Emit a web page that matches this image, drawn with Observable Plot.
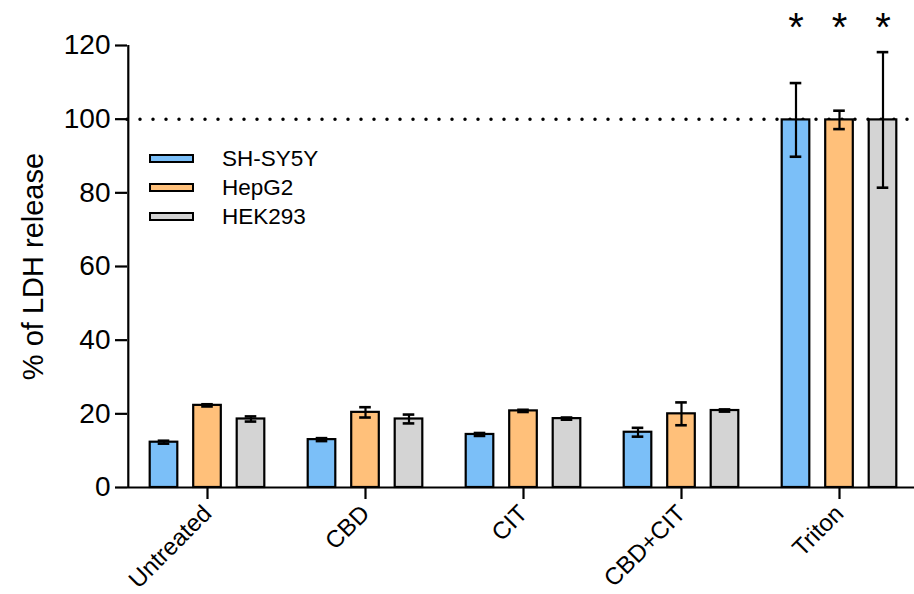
<!DOCTYPE html>
<html>
<head>
<meta charset="utf-8">
<script src="https://cdn.jsdelivr.net/npm/d3@7"></script>
<script src="https://cdn.jsdelivr.net/npm/@observablehq/plot@0.6"></script>
<style>
  body { margin: 0; background: #fff; font-family: "Liberation Sans", Arial, sans-serif; }
  #wrap { position: relative; width: 914px; height: 594px; }
  #legend { position: absolute; left: 149px; top: 144px; font-size: 22.5px; color: #000; }
  .row { display: flex; align-items: center; height: 29px; }
  .sw { width: 41px; height: 5px; border: 2px solid #000; margin-right: 28px; }
</style>
</head>
<body>
<div id="wrap"></div>
<script>
const treatments = ["Untreated", "CBD", "CIT", "CBD+CIT", "Triton"];
const series = ["SH-SY5Y", "HepG2", "HEK293"];
const colors = ["#7bbff8", "#ffc07a", "#d4d4d4"];
const shMean = [12.3, 13.0, 14.4, 15.0, 99.8];
const shErr = [0.4, 0.4, 0.4, 1.2, 10.0];
const hepMean = [22.3, 20.4, 20.8, 20.0, 99.8];
const hepErr = [0.3, 1.4, 0.3, 3.1, 2.5];
const hekMean = [18.6, 18.6, 18.7, 20.9, 99.8];
const hekErr = [0.7, 1.2, 0.3, 0.3, 18.4];
const starTreatment = "Triton";
const yTicks = [0, 20, 40, 60, 80, 100, 120];
const refLine = [100];
const yLabel = "% of LDH release";

const means = [shMean, hepMean, hekMean];
const errs = [shErr, hepErr, hekErr];
const data = series.map((s, i) => treatments.map((t, j) => ({
  treatment: t, series: s, mean: means[i][j], lo: means[i][j] - errs[i][j], hi: means[i][j] + errs[i][j]
})));

const step = (914 + 5 - 127) / treatments.length;
const barW = 28, capW = 12, offset = 43.5;
const marks = [];
marks.push(Plot.ruleY(refLine, {strokeDasharray: "0 13", strokeLinecap: "round", strokeWidth: 3.5}));
series.forEach((s, i) => {
  const dx = (i - 1) * offset;
  const inset = (step - barW) / 2;
  const capInset = (step - capW) / 2;
  marks.push(Plot.barY(data[i], {x: "treatment", y: "mean", fill: colors[i], stroke: "black", strokeWidth: 2.2, dx, insetLeft: inset, insetRight: inset}));
  marks.push(Plot.ruleX(data[i], {x: "treatment", y1: "lo", y2: "hi", strokeWidth: 2.2, dx}));
  marks.push(Plot.tickY(data[i], {x: "treatment", y: "hi", strokeWidth: 2.6, dx, insetLeft: capInset, insetRight: capInset}));
  marks.push(Plot.tickY(data[i], {x: "treatment", y: "lo", strokeWidth: 2.6, dx, insetLeft: capInset, insetRight: capInset}));
  marks.push(Plot.text(data[i].filter(d => d.treatment === starTreatment), {x: "treatment", y: 120, text: () => "*", dx, dy: -17, fontSize: 40}));
});
marks.push(Plot.ruleY([0], {strokeWidth: 2.2}));
// y axis line at the left edge of the first band
marks.push(Plot.ruleX([treatments[0]], {x: d => d, y1: 0, y2: 120, dx: -step / 2, strokeWidth: 2.2}));
marks.push(Plot.axisY({ticks: yTicks, tickSize: 12, tickPadding: 5, fontSize: 28, strokeWidth: 2.2, label: null}));
marks.push(Plot.text([yLabel], {text: d => d, frameAnchor: "left", textAnchor: "middle", rotate: -90, dx: -94, fontSize: 29}));
marks.push(Plot.axisX({tickSize: 12, tickPadding: 10, tickRotate: -45, fontSize: 24, strokeWidth: 2.2, label: null}));

const chart = Plot.plot({
  width: 914, height: 594,
  marginLeft: 127, marginRight: -5, marginTop: 45, marginBottom: 107,
  style: {fontFamily: "'Liberation Sans', Arial, sans-serif", color: "black", background: "white", overflow: "visible"},
  x: {domain: treatments, padding: 0},
  y: {domain: [0, 120]},
  marks
});
const wrap = document.getElementById("wrap");
wrap.appendChild(chart);

const legend = document.createElement("div");
legend.id = "legend";
series.forEach((s, i) => {
  const row = document.createElement("div");
  row.className = "row";
  const sw = document.createElement("div");
  sw.className = "sw";
  sw.style.background = colors[i];
  const lab = document.createElement("span");
  lab.textContent = s;
  row.appendChild(sw); row.appendChild(lab);
  legend.appendChild(row);
});
wrap.appendChild(legend);
</script>
</body>
</html>
